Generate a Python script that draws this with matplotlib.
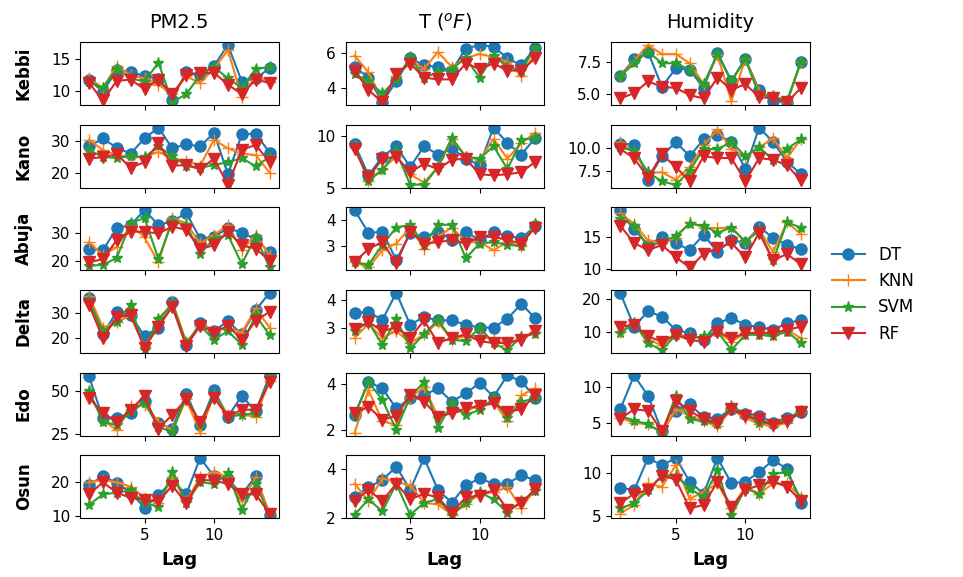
import matplotlib
matplotlib.use("Agg")
import matplotlib.pyplot as plt

lags = list(range(1, 15))
models = ["DT", "KNN", "SVM", "RF"]
cities = ["Kebbi", "Kano", "Abuja", "Delta", "Edo", "Osun"]
variables = ["PM2.5", r"T ($^oF$)", "Humidity"]

# rows: DT, KNN, SVM, RF
kebbi_pm25 = [[11.8, 9.9, 13.3, 13.0, 12.4, 11.9, 8.6, 13.0, 12.6, 14.0, 17.3, 11.5, 12.0, 13.6],
              [12.0, 10.5, 14.0, 12.5, 12.0, 11.0, 9.5, 12.3, 11.3, 13.5, 16.5, 9.0, 12.5, 11.5],
              [11.5, 10.5, 13.5, 12.0, 11.5, 14.5, 8.2, 9.5, 12.5, 13.8, 12.0, 10.5, 13.5, 13.8],
              [11.3, 8.5, 11.6, 11.8, 10.3, 11.8, 9.5, 12.5, 12.8, 12.9, 11.0, 9.5, 11.8, 11.3]]
kebbi_temp = [[5.2, 4.6, 3.2, 4.4, 5.7, 5.3, 5.2, 5.0, 6.25, 6.45, 6.35, 5.7, 5.3, 6.3],
              [5.85, 4.9, 3.3, 4.7, 5.6, 5.1, 6.05, 5.2, 5.7, 5.95, 5.75, 5.5, 4.7, 6.0],
              [4.8, 4.4, 3.7, 4.5, 5.75, 4.6, 4.9, 5.1, 5.7, 4.6, 5.85, 5.2, 5.0, 6.3],
              [5.0, 3.9, 3.2, 4.8, 5.4, 4.6, 4.5, 4.5, 5.4, 5.1, 5.4, 5.0, 5.0, 5.7]]
kebbi_hum = [[6.45, 7.7, 8.25, 5.6, 7.0, 6.9, 5.5, 8.2, 6.05, 7.75, 5.35, 4.5, 4.4, 7.5],
             [6.4, 7.6, 8.8, 8.1, 8.1, 7.4, 5.8, 8.0, 4.5, 7.7, 5.2, 4.8, 4.4, 7.5],
             [6.4, 7.4, 8.3, 7.4, 7.4, 6.9, 5.8, 8.1, 6.0, 7.7, 4.95, 4.9, 4.5, 7.5],
             [4.7, 5.1, 6.0, 5.6, 5.5, 4.95, 4.7, 6.3, 5.35, 5.8, 4.8, 4.7, 4.4, 5.5]]

kano_pm25 = [[28.4, 30.9, 28.0, 26.2, 30.9, 34.3, 27.8, 29.1, 28.4, 32.7, 19.7, 32.2, 32.4, 26.5],
             [30.5, 27.3, 25.7, 25.1, 25.1, 26.7, 24.6, 24.0, 22.4, 30.5, 27.8, 26.2, 25.7, 20.2],
             [27.3, 25.1, 24.8, 25.4, 25.1, 28.4, 25.4, 22.4, 21.8, 22.6, 23.5, 24.8, 22.2, 25.1],
             [24.6, 25.1, 25.9, 21.8, 23.5, 29.5, 22.4, 22.6, 21.3, 24.6, 16.4, 27.3, 28.9, 23.5]]
kano_temp = [[9.2, 6.2, 8.0, 9.0, 7.0, 9.0, 8.2, 8.8, 7.8, 7.2, 10.8, 9.3, 8.2, 9.8],
             [9.0, 5.7, 6.8, 8.0, 6.3, 5.5, 7.0, 9.7, 8.0, 7.7, 9.7, 7.8, 9.3, 10.3],
             [9.0, 5.7, 6.7, 8.5, 5.3, 5.3, 7.0, 9.8, 8.0, 7.8, 9.0, 6.8, 9.6, 9.8],
             [8.7, 6.0, 7.8, 8.0, 6.5, 7.3, 6.8, 7.7, 7.8, 6.3, 6.2, 6.3, 6.5, 7.5]]
kano_hum = [[10.5, 10.4, 6.5, 9.1, 10.7, 9.1, 11.0, 11.5, 10.7, 7.7, 12.3, 10.7, 8.5, 7.1],
            [10.7, 9.5, 7.3, 7.3, 6.5, 7.9, 10.3, 12.1, 9.9, 9.1, 10.1, 11.1, 8.9, 11.0],
            [10.1, 9.7, 7.3, 6.3, 5.9, 7.5, 9.9, 9.9, 10.7, 9.1, 10.1, 8.7, 9.9, 11.0],
            [9.9, 8.9, 6.7, 9.3, 7.9, 6.3, 9.1, 8.9, 8.9, 6.3, 8.9, 8.7, 8.1, 6.4]]

abuja_pm25 = [[24.4, 23.8, 31.9, 33.1, 38.5, 33.1, 34.4, 37.5, 28.1, 28.8, 31.9, 30.3, 27.8, 23.1],
              [26.9, 21.9, 25.0, 33.1, 28.5, 19.4, 35.6, 33.8, 26.3, 29.4, 33.1, 23.8, 29.4, 21.9],
              [18.1, 18.5, 21.0, 33.8, 35.6, 20.6, 34.4, 33.1, 22.5, 28.1, 29.4, 18.8, 28.8, 17.5],
              [19.4, 20.6, 27.5, 30.6, 30.6, 30.0, 32.5, 31.3, 24.4, 25.6, 30.6, 25.6, 24.4, 20.0]]
abuja_temp = [[4.35, 3.5, 3.54, 2.48, 3.48, 3.35, 3.54, 3.25, 3.54, 3.23, 3.54, 3.38, 3.3, 3.75],
              [2.4, 2.2, 2.85, 3.1, 3.7, 2.9, 3.35, 3.7, 3.15, 3.15, 2.85, 3.15, 3.0, 3.85],
              [2.4, 2.3, 3.05, 3.7, 3.8, 3.05, 3.8, 3.8, 2.55, 3.1, 3.15, 3.05, 3.0, 3.85],
              [2.4, 2.9, 3.15, 2.35, 3.54, 3.1, 3.15, 3.23, 3.1, 3.35, 3.35, 3.23, 3.1, 3.7]]
abuja_hum = [[19.2, 16.25, 13.8, 15.0, 14.1, 13.0, 15.4, 12.7, 14.6, 14.1, 16.6, 14.9, 13.8, 13.2],
             [18.7, 17.1, 14.5, 14.1, 14.9, 17.3, 16.5, 16.4, 16.5, 14.3, 16.25, 12.7, 17.3, 15.5],
             [17.9, 16.8, 13.5, 14.3, 15.2, 17.1, 16.8, 15.7, 16.5, 14.3, 16.0, 11.4, 17.3, 16.5],
             [16.8, 14.1, 13.0, 13.8, 11.9, 10.3, 12.4, 13.3, 14.1, 11.9, 15.7, 11.4, 12.4, 10.8]]

delta_pm25 = [[35.8, 21.4, 30.3, 28.9, 20.7, 24.1, 34.0, 17.3, 25.8, 22.7, 26.6, 21.4, 31.0, 37.8],
              [36.7, 24.1, 26.2, 28.9, 16.6, 25.5, 34.4, 18.4, 24.8, 22.7, 24.1, 22.1, 31.6, 24.1],
              [34.4, 22.7, 26.2, 33.0, 15.2, 27.5, 33.4, 17.9, 24.8, 19.3, 22.7, 17.3, 28.9, 21.1],
              [33.0, 20.0, 28.2, 28.9, 16.2, 24.4, 32.3, 16.8, 24.8, 22.1, 24.8, 19.3, 26.8, 30.3]]
delta_temp = [[3.54, 3.57, 3.29, 4.24, 3.12, 3.39, 3.27, 3.27, 3.12, 3.02, 3.02, 3.33, 3.85, 3.35],
              [2.66, 3.15, 2.66, 2.9, 2.48, 2.78, 3.2, 2.6, 2.72, 2.72, 2.6, 2.41, 2.7, 2.85],
              [2.9, 3.21, 2.41, 3.33, 2.29, 2.78, 3.29, 2.6, 2.54, 3.02, 2.48, 2.23, 2.7, 2.8],
              [2.96, 3.21, 2.9, 3.02, 2.66, 3.27, 2.48, 2.66, 2.78, 2.54, 2.48, 2.48, 2.6, 2.9]]
delta_hum = [[21.9, 11.5, 16.2, 14.6, 10.5, 9.5, 7.4, 12.6, 14.1, 12.1, 11.3, 10.5, 12.6, 13.5],
             [10.0, 12.6, 7.4, 5.9, 9.0, 8.5, 7.9, 10.0, 6.9, 9.5, 9.5, 9.0, 10.5, 8.0],
             [9.5, 12.6, 6.4, 4.3, 9.0, 7.9, 8.5, 10.0, 4.3, 9.0, 9.0, 8.5, 10.0, 6.5],
             [11.5, 12.1, 8.5, 6.9, 9.0, 7.4, 6.9, 10.0, 7.9, 9.5, 9.7, 9.5, 10.5, 11.5]]

edo_pm25 = [[58.4, 34.0, 34.0, 37.0, 44.0, 31.0, 28.0, 48.4, 30.0, 50.4, 35.0, 47.0, 38.0, 59.0],
            [49.0, 33.0, 27.0, 41.0, 42.0, 32.0, 27.0, 45.0, 25.6, 48.0, 36.0, 36.0, 35.0, 56.0],
            [50.0, 32.0, 30.0, 38.0, 43.0, 29.0, 26.0, 47.0, 30.0, 48.0, 35.0, 36.0, 37.0, 58.0],
            [46.0, 37.0, 32.0, 39.0, 47.0, 28.0, 36.0, 45.0, 32.0, 46.0, 35.0, 39.0, 39.0, 55.0]]
edo_temp = [[2.66, 4.07, 3.79, 2.94, 3.37, 3.51, 3.79, 3.23, 3.58, 4.03, 3.44, 4.35, 4.1, 3.4],
            [1.9, 3.72, 2.38, 2.24, 3.37, 3.86, 2.59, 2.8, 2.8, 3.08, 3.23, 2.38, 3.5, 3.8],
            [2.66, 4.07, 3.3, 2.03, 3.44, 4.07, 2.1, 3.15, 2.66, 2.87, 3.37, 2.52, 3.2, 3.4],
            [2.73, 3.01, 2.45, 2.62, 3.51, 3.23, 2.59, 2.73, 2.94, 3.04, 3.15, 2.8, 2.9, 3.5]]
edo_hum = [[6.9, 11.7, 8.8, 3.8, 6.7, 7.6, 5.8, 5.6, 7.0, 6.3, 6.0, 5.0, 5.7, 6.5],
           [5.7, 5.0, 4.8, 3.6, 6.9, 6.0, 5.2, 4.5, 6.9, 5.7, 4.8, 4.5, 5.0, 6.5],
           [6.0, 5.3, 4.8, 3.6, 8.8, 5.5, 5.2, 4.8, 7.4, 6.2, 5.0, 4.9, 5.5, 6.7],
           [5.6, 6.9, 6.7, 3.8, 8.1, 6.7, 5.5, 5.0, 6.9, 6.0, 5.5, 4.7, 5.2, 6.5]]

osun_pm25 = [[19.2, 21.8, 19.8, 16.9, 12.5, 16.1, 20.5, 16.4, 27.2, 21.8, 21.0, 16.4, 21.8, 10.4],
             [20.0, 20.7, 20.0, 18.7, 15.4, 13.8, 21.5, 14.3, 21.5, 23.1, 21.5, 14.3, 21.5, 10.7],
             [13.3, 16.4, 16.9, 17.6, 13.8, 12.8, 23.1, 13.8, 20.0, 19.5, 22.6, 11.8, 19.5, 10.2],
             [16.4, 20.0, 16.9, 15.4, 14.8, 14.3, 19.0, 13.8, 20.7, 20.5, 19.5, 16.4, 16.4, 10.7]]
osun_temp = [[2.87, 3.27, 3.55, 4.11, 3.15, 4.46, 3.15, 2.63, 3.34, 3.62, 3.41, 3.41, 3.75, 3.55],
             [3.41, 2.7, 3.62, 3.48, 3.34, 2.63, 2.56, 2.14, 2.56, 2.99, 3.06, 3.27, 2.4, 3.2],
             [2.14, 2.77, 2.28, 3.41, 2.14, 2.63, 2.77, 2.14, 2.63, 3.06, 2.77, 2.21, 2.7, 3.1],
             [2.7, 3.15, 2.7, 3.41, 2.77, 2.99, 2.85, 2.21, 2.85, 2.92, 3.15, 2.35, 2.6, 3.2]]
osun_hum = [[8.3, 8.0, 11.75, 10.9, 11.75, 9.0, 7.6, 11.75, 8.8, 9.0, 10.1, 11.5, 10.5, 6.5],
            [5.3, 6.3, 8.8, 8.4, 10.9, 7.0, 7.8, 8.8, 5.9, 8.4, 7.6, 8.8, 8.8, 7.2],
            [5.9, 6.5, 8.0, 9.7, 9.7, 8.2, 7.2, 10.3, 5.1, 8.2, 7.6, 9.9, 10.1, 7.0],
            [6.5, 7.6, 8.0, 9.7, 9.25, 5.9, 6.3, 9.0, 6.1, 8.0, 8.6, 9.0, 8.4, 6.8]]

panels = [[kebbi_pm25, kebbi_temp, kebbi_hum],
          [kano_pm25, kano_temp, kano_hum],
          [abuja_pm25, abuja_temp, abuja_hum],
          [delta_pm25, delta_temp, delta_hum],
          [edo_pm25, edo_temp, edo_hum],
          [osun_pm25, osun_temp, osun_hum]]

yticks = [[[10, 15], [4, 6], [5.0, 7.5]],
          [[20, 30], [5, 10], [7.5, 10.0]],
          [[20, 30], [3, 4], [10, 15]],
          [[20, 30], [3, 4], [10, 20]],
          [[25, 50], [2, 4], [5, 10]],
          [[10, 20], [2, 4], [5, 10]]]

colors = ["#1f77b4", "#ff7f0e", "#2ca02c", "#d62728"]
markers = ["o", "+", "*", "v"]

fig, axes = plt.subplots(6, 3, figsize=(9.63, 5.77), dpi=100, sharex=True)
fig.subplots_adjust(left=0.083, right=0.841, top=0.927, bottom=0.102,
                    wspace=0.337, hspace=0.31)

for i in range(6):
    for j in range(3):
        ax = axes[i][j]
        for k in range(4):
            ax.plot(lags, panels[i][j][k], color=colors[k], marker=markers[k],
                    markersize=8, linewidth=1.5, label=models[k])
        ax.set_yticks(yticks[i][j])
        if j == 2 and i in (0, 1):
            ax.set_yticklabels(["%.1f" % t for t in yticks[i][j]])
        ax.tick_params(labelsize=11)
        if i == 0:
            ax.set_title(variables[j], fontsize=14, pad=10)
        if j == 0:
            ax.set_ylabel(cities[i], fontsize=12, fontweight="bold", labelpad=13)
        if i == 5:
            ax.set_xlabel("Lag", fontsize=13, fontweight="bold", labelpad=6)

axes[5][0].set_xticks([5, 10])

handles, labels = axes[0][0].get_legend_handles_labels()
fig.legend(handles, labels, loc="center left", bbox_to_anchor=(0.848, 0.49),
           frameon=False, fontsize=12)

fig.savefig("out.png", dpi=100)
